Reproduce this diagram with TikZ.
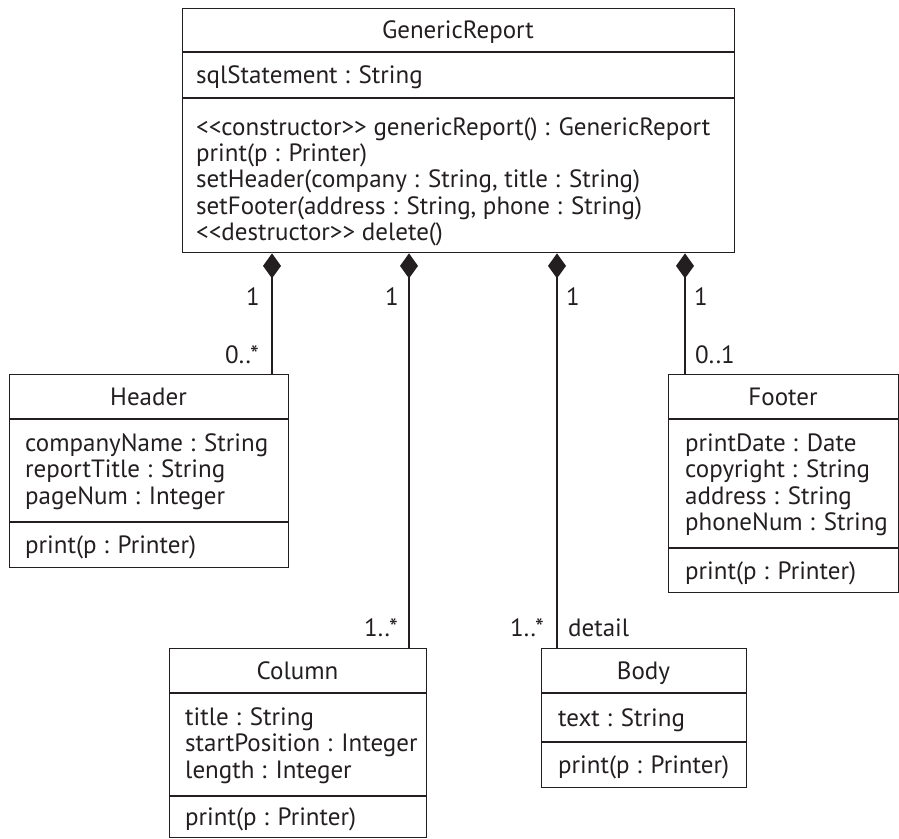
\documentclass[tikz,border=0pt]{standalone}
\usepackage{fontspec}
\setmainfont{PT Sans}
\usetikzlibrary{arrows.meta}
\definecolor{ink}{HTML}{231F20}
\newcommand\umlfont{\fontsize{25}{26.3}\selectfont}
% guillemet-free stereotype brackets
\newcommand\stereo[1]{<{}<#1>{}>}
\begin{document}
\begin{tikzpicture}[x=1pt,y=-1pt,
  classbox/.style={draw=ink, line width=1.4pt, anchor=north west, inner sep=0pt},
  sepline/.style={draw=ink, line width=1.4pt},
  umltext/.style={font=\umlfont, text=ink, inner sep=0pt, yshift=-3pt},
  classname/.style={umltext, execute at begin node=\strut},
  members/.style={umltext, align=left, anchor=west,
    execute at begin node=\strut, execute at end node=\strut},
  mult/.style={umltext, execute at begin node=\strut},
  compose/.style={draw=ink, line width=1.3pt, {Diamond[length=25pt,width=18pt,fill=ink]}-}]
\useasboundingbox (0,0) rectangle (899,838);

% ---- GenericReport ----
\node[classbox, minimum width=552pt, minimum height=244pt] (gr) at (182,8) {};
\draw[sepline] (gr.west |- 0,52) -- (gr.east |- 0,52);
\draw[sepline] (gr.west |- 0,98) -- (gr.east |- 0,98);
\node[classname] (grname) at (458,30) {GenericReport};
\node[members] (grattr) at (196,75) {sqlStatement : String};
\node[members] (grops) at (196,180) {\stereo{constructor} genericReport() : GenericReport\\
print(p : Printer)\\
setHeader(company : String, title : String)\\
setFooter(address : String, phone : String)\\
\stereo{destructor} delete()};

% ---- Header ----
\node[classbox, minimum width=279pt, minimum height=193pt] (header) at (9,374) {};
\draw[sepline] (header.west |- 0,419) -- (header.east |- 0,419);
\draw[sepline] (header.west |- 0,522) -- (header.east |- 0,522);
\node[classname] (headername) at (148.5,397) {Header};
\node[members] (headerattr) at (25,470) {companyName : String\\
reportTitle : String\\
pageNum : Integer};
\node[members] (headerops) at (25,545) {print(p : Printer)};

% ---- Footer ----
\node[classbox, minimum width=230pt, minimum height=218pt] (footer) at (668,374) {};
\draw[sepline] (footer.west |- 0,419) -- (footer.east |- 0,419);
\draw[sepline] (footer.west |- 0,548) -- (footer.east |- 0,548);
\node[classname] (footername) at (783,397) {Footer};
\node[members] (footerattr) at (685,483) {printDate : Date\\
copyright : String\\
address : String\\
phoneNum : String};
\node[members] (footerops) at (685,571) {print(p : Printer)};

% ---- Column ----
\node[classbox, minimum width=257pt, minimum height=189pt] (column) at (169,648) {};
\draw[sepline] (column.west |- 0,693) -- (column.east |- 0,693);
\draw[sepline] (column.west |- 0,796) -- (column.east |- 0,796);
\node[classname] (columnname) at (297.5,671) {Column};
\node[members] (columnattr) at (185,744) {title : String\\
startPosition : Integer\\
length : Integer};
\node[members] (columnops) at (185,817) {print(p : Printer)};

% ---- Body ----
\node[classbox, minimum width=205pt, minimum height=139pt] (body) at (541,648) {};
\draw[sepline] (body.west |- 0,693) -- (body.east |- 0,693);
\draw[sepline] (body.west |- 0,742) -- (body.east |- 0,742);
\node[classname] (bodyname) at (643.5,671) {Body};
\node[members] (bodyattr) at (558,718) {text : String};
\node[members] (bodyops) at (558,765) {print(p : Printer)};

% ---- composition links ----
\coordinate (xh) at (272,0);
\coordinate (xc) at (409,0);
\coordinate (xb) at (557,0);
\coordinate (xf) at (685,0);
\draw[compose] (gr.south -| xh) -- (header.north -| xh);
\draw[compose] (gr.south -| xc) -- (column.north -| xc);
\draw[compose] (gr.south -| xb) -- (body.north -| xb);
\draw[compose] (gr.south -| xf) -- (footer.north -| xf);

% ---- multiplicities and role ----
\node[mult] (mh1) at (253,297) {1};
\node[mult] (mh2) at (242,355) {0..*};
\node[mult] (mc1) at (392,297) {1};
\node[mult] (mc2) at (381,628) {1..*};
\node[mult] (mb1) at (573,297) {1};
\node[mult] (mb2) at (527,628) {1..*};
\node[mult, anchor=west] (role) at (568,628) {detail};
\node[mult] (mf1) at (701,297) {1};
\node[mult] (mf2) at (715,355) {0..1};
\end{tikzpicture}
\end{document}
